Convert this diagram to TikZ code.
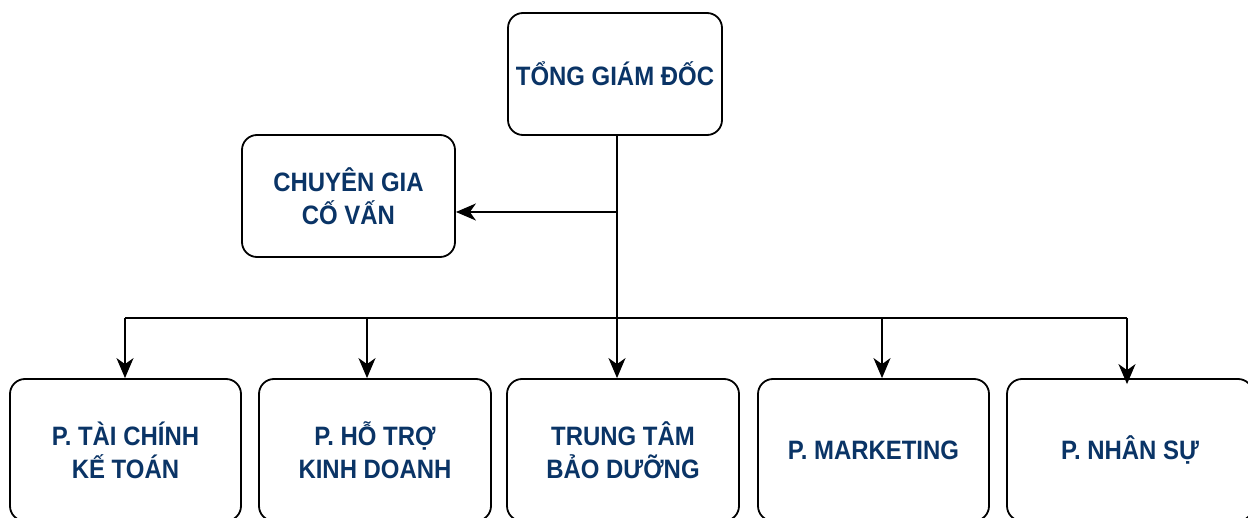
\documentclass[tikz,border=0pt]{standalone}
\usepackage{fontspec}
\setmainfont{Liberation Sans}
\newfontfamily\lblfont[FakeStretch=0.9]{Liberation Sans}
\usetikzlibrary{arrows.meta}
\definecolor{txtblue}{RGB}{10,52,102}
\begin{document}
\begin{tikzpicture}[x=0.5pt,y=-0.5pt,
  box/.style={draw=black, line width=0.9pt, rounded corners=7.5pt, fill=white,
    align=center, text=txtblue, font=\lblfont\fontsize{13.3}{16.5}\selectfont\bfseries,
    inner sep=0pt},
  conn/.style={draw=black, line width=0.9pt},
  arr/.style={conn, -{Stealth[length=10pt, width=8.5pt, inset=3pt]}}]
\useasboundingbox (0,0) rectangle (1248,518);
\fill[white] (0,0) rectangle (1248,518);
% nodes
\node[box, minimum width=107pt, minimum height=61pt] (top) at (615,74) {TỔNG GIÁM ĐỐC};
\node[box, minimum width=106.5pt, minimum height=61pt] (adv) at (348.5,196) {CHUYÊN GIA\\CỐ VẤN};
\node[box, minimum width=115.5pt, minimum height=71pt] (b1) at (125.5,450) {P. TÀI CHÍNH\\KẾ TOÁN};
\node[box, minimum width=116pt, minimum height=71pt] (b2) at (375,450) {P. HỖ TRỢ\\KINH DOANH};
\node[box, minimum width=116pt, minimum height=71pt] (b3) at (623,450) {TRUNG TÂM\\BẢO DƯỠNG};
\node[box, minimum width=115.5pt, minimum height=71pt] (b4) at (873.5,450) {P. MARKETING};
\node[box, minimum width=123pt, minimum height=71pt] (b5) at (1130,450) {P. NHÂN SỰ};
% junction coordinates
\coordinate (m) at (616,212);
\coordinate (k1) at (125,318);
\coordinate (k2) at (367,318);
\coordinate (k3) at (617,318);
\coordinate (k4) at (882,318);
\coordinate (k5) at (1127,318);
% connectors
\draw[conn] (top.south -| k3) -- (k3);
\draw[arr] (m) -- (adv.east |- m);
\draw[conn] (k1) -- (k5);
\draw[arr] (k1) -- (b1.north -| k1);
\draw[arr] (k2) -- (b2.north -| k2);
\draw[arr] (k3) -- (b3.north -| k3);
\draw[arr] (k4) -- (b4.north -| k4);
\draw[arr] (k5) -- ([yshift=-3pt]b5.north -| k5);
\end{tikzpicture}
\end{document}
